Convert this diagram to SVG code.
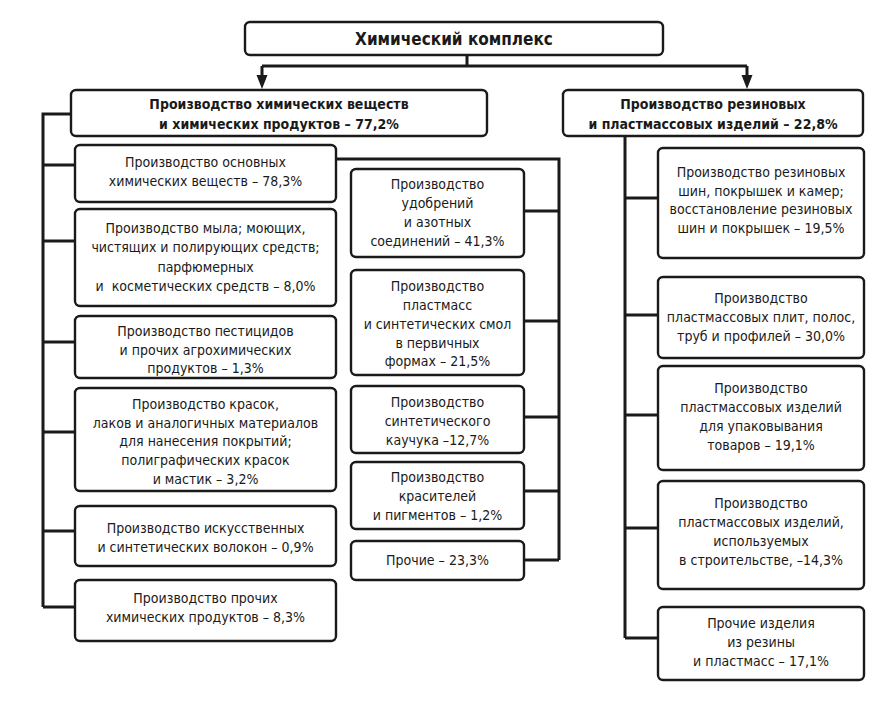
<svg xmlns="http://www.w3.org/2000/svg" width="888" height="702" viewBox="0 0 888 702">
<defs>
<style>
.box{fill:#fff;stroke:#1a1a1a;stroke-width:2.4}
.t{font-family:"DejaVu Sans Condensed","DejaVu Sans","Liberation Sans",sans-serif;font-stretch:condensed;font-size:14px;fill:#1a1a1a;text-anchor:middle;dominant-baseline:central}
.b{font-weight:bold}
.h{font-size:17px}
.c{fill:none;stroke:#1a1a1a;stroke-width:3}
.a{fill:#1a1a1a}
</style>
</defs>
<rect width="888" height="702" fill="#fff"/>
<g id="connectors">
<path class="c" d="M467,55 V66 M262,66 H747 M262,66 V78 M747,66 V78"/>
<polygon class="a" points="256.5,75 267.5,75 262,89"/>
<polygon class="a" points="741.5,75 752.5,75 747,89"/>
<path class="c" d="M71,114 H43 V607 M43,165 H75 M43,241 H75 M43,342 H75 M43,432 H75 M43,531 H75 M43,607 H75"/>
<path class="c" d="M336,159 H559 V560 M524,211 H559 M524,321 H559 M524,417 H559 M524,491 H559 M524,560 H559"/>
<path class="c" d="M625,137 V638 M625,198 H658 M625,315 H658 M625,415 H658 M625,528 H658 M625,638 H658"/>
</g>
<g id="root"><rect class="box" x="245" y="22" width="418" height="33" rx="5"/><text class="t b h" x="454" y="39">Химический комплекс</text></g>
<g id="chem"><rect class="box" x="71" y="90" width="416" height="46" rx="5"/><text class="t b" x="279" y="104">Производство химических веществ</text><text class="t b" x="279" y="124">и химических продуктов – 77,2%</text></g>
<g id="rubber"><rect class="box" x="563" y="90" width="300" height="46" rx="5"/><text class="t b" x="713" y="104">Производство резиновых</text><text class="t b" x="713" y="124">и пластмассовых изделий – 22,8%</text></g>

<g id="l1"><rect class="box" x="75" y="145" width="261" height="57" rx="5"/><text class="t" x="205.5" y="162">Производство основных</text><text class="t" x="205.5" y="181">химических веществ – 78,3%</text></g>
<g id="l2"><rect class="box" x="75" y="209" width="261" height="97" rx="5"/><text class="t" x="205.5" y="228">Производство мыла; моющих,</text><text class="t" x="205.5" y="247">чистящих и полирующих средств;</text><text class="t" x="205.5" y="267">парфюмерных</text><text class="t" x="205.5" y="286" xml:space="preserve">и  косметических средств – 8,0%</text></g>
<g id="l3"><rect class="box" x="75" y="316" width="261" height="62" rx="5"/><text class="t" x="205.5" y="331">Производство пестицидов</text><text class="t" x="205.5" y="350">и прочих агрохимических</text><text class="t" x="205.5" y="368">продуктов – 1,3%</text></g>
<g id="l4"><rect class="box" x="75" y="388" width="261" height="103" rx="5"/><text class="t" x="205.5" y="404">Производство красок,</text><text class="t" x="205.5" y="423">лаков и аналогичных материалов</text><text class="t" x="205.5" y="441">для нанесения покрытий;</text><text class="t" x="205.5" y="460">полиграфических красок</text><text class="t" x="205.5" y="479">и мастик – 3,2%</text></g>
<g id="l5"><rect class="box" x="75" y="506" width="261" height="60" rx="5"/><text class="t" x="205.5" y="528">Производство искусственных</text><text class="t" x="205.5" y="547">и синтетических волокон – 0,9%</text></g>
<g id="l6"><rect class="box" x="75" y="580" width="261" height="61" rx="5"/><text class="t" x="205.5" y="598">Производство прочих</text><text class="t" x="205.5" y="617">химических продуктов – 8,3%</text></g>

<g id="m1"><rect class="box" x="351" y="169" width="173" height="88" rx="5"/><text class="t" x="437.5" y="184">Производство</text><text class="t" x="437.5" y="203">удобрений</text><text class="t" x="437.5" y="222">и азотных</text><text class="t" x="437.5" y="241">соединений – 41,3%</text></g>
<g id="m2"><rect class="box" x="351" y="270" width="173" height="105" rx="5"/><text class="t" x="437.5" y="286">Производство</text><text class="t" x="437.5" y="305">пластмасс</text><text class="t" x="437.5" y="324">и синтетических смол</text><text class="t" x="437.5" y="343">в первичных</text><text class="t" x="437.5" y="361">формах – 21,5%</text></g>
<g id="m3"><rect class="box" x="351" y="386" width="173" height="67" rx="5"/><text class="t" x="437.5" y="402">Производство</text><text class="t" x="437.5" y="421">синтетического</text><text class="t" x="437.5" y="440">каучука –12,7%</text></g>
<g id="m4"><rect class="box" x="351" y="462" width="173" height="67" rx="5"/><text class="t" x="437.5" y="477">Производство</text><text class="t" x="437.5" y="496">красителей</text><text class="t" x="437.5" y="515">и пигментов – 1,2%</text></g>
<g id="m5"><rect class="box" x="351" y="541" width="173" height="39" rx="5"/><text class="t" x="437.5" y="560">Прочие – 23,3%</text></g>

<g id="r1"><rect class="box" x="658" y="148" width="206" height="110" rx="5"/><text class="t" x="761" y="172">Производство резиновых</text><text class="t" x="761" y="191">шин, покрышек и камер;</text><text class="t" x="761" y="209">восстановление резиновых</text><text class="t" x="761" y="228">шин и покрышек – 19,5%</text></g>
<g id="r2"><rect class="box" x="658" y="277" width="206" height="81" rx="5"/><text class="t" x="761" y="298">Производство</text><text class="t" x="761" y="317">пластмассовых плит, полос,</text><text class="t" x="761" y="336">труб и профилей – 30,0%</text></g>
<g id="r3"><rect class="box" x="658" y="366" width="206" height="104" rx="5"/><text class="t" x="761" y="388">Производство</text><text class="t" x="761" y="407">пластмассовых изделий</text><text class="t" x="761" y="426">для упаковывания</text><text class="t" x="761" y="445">товаров – 19,1%</text></g>
<g id="r4"><rect class="box" x="658" y="481" width="206" height="108" rx="5"/><text class="t" x="761" y="503">Производство</text><text class="t" x="761" y="522">пластмассовых изделий,</text><text class="t" x="761" y="541">используемых</text><text class="t" x="761" y="560">в строительстве, –14,3%</text></g>
<g id="r5"><rect class="box" x="658" y="607" width="206" height="73" rx="5"/><text class="t" x="761" y="623">Прочие изделия</text><text class="t" x="761" y="642">из резины</text><text class="t" x="761" y="661">и пластмасс – 17,1%</text></g>
</svg>
